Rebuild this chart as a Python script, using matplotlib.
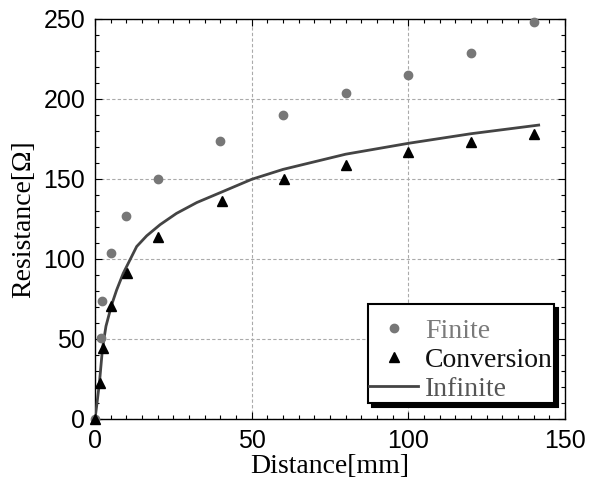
import matplotlib
matplotlib.use("Agg")
import matplotlib.pyplot as plt
from matplotlib.ticker import MultipleLocator

# ---- data ----
finite_x = [0, 1.9, 2.3, 5, 10, 20, 40, 60, 80, 100, 120, 140]
finite_y = [0, 50.4, 74, 104, 127, 150, 174, 190, 203.5, 215, 228.5, 248]

conv_x = [0, 1.6, 2.45, 5.2, 10.2, 20.2, 40.5, 60.2, 80, 100, 120, 140]
conv_y = [0, 22.5, 44.2, 70.5, 91.5, 114, 136.2, 149.8, 158.7, 166.7, 172.9, 178.1]

inf_x = [0, 0.5, 1.4, 2.4, 3.5, 5.3, 6.9, 9, 11.2, 13.3, 16.5, 20.8, 26, 32.5, 40, 50, 60,
         80, 100, 120, 141.6]
inf_y = [0, 7.7, 22.3, 44.2, 58, 71.3, 80.6, 91, 99.6, 107.8, 114.5, 121.5, 128.5, 135.3, 141.5,
         149.8, 156, 165.5, 172.3, 178.3, 183.7]

labels = ["Finite", "Conversion", "Infinite"]
label_colors = ["#7a7a7a", "#111111", "#555555"]

# ---- figure ----
fig = plt.figure(figsize=(6.02, 4.79), dpi=100)
ax = fig.add_axes([95 / 602, 1 - 419 / 479, 470 / 602, 400 / 479])

ax.plot(inf_x, inf_y, color="#444444", lw=2.0, label=labels[2], zorder=3,
        solid_joinstyle="round")
ax.plot(finite_x, finite_y, linestyle="none", marker="o", ms=6, color="#777777",
        label=labels[0], zorder=4, clip_on=False)
ax.plot(conv_x, conv_y, linestyle="none", marker="^", ms=6.5, color="#000000",
        label=labels[1], zorder=5, clip_on=False)

ax.set_xlim(0, 150)
ax.set_ylim(0, 250)
ax.xaxis.set_major_locator(MultipleLocator(50))
ax.xaxis.set_minor_locator(MultipleLocator(5))
ax.yaxis.set_major_locator(MultipleLocator(50))
ax.yaxis.set_minor_locator(MultipleLocator(10))

ax.grid(True, which="major", linestyle=(0, (3, 2)), color="#aaaaaa", lw=0.8)
ax.tick_params(which="both", direction="in", top=True, right=True, color="black", width=0.8)
ax.tick_params(which="major", length=5, labelsize=18, pad=7)
ax.tick_params(which="minor", length=3)
for lab in ax.get_xticklabels() + ax.get_yticklabels():
    lab.set_fontfamily("Liberation Sans")
for s in ax.spines.values():
    s.set_linewidth(1.0)
    s.set_color("black")

ax.set_xlabel("Distance[mm]", fontfamily="Liberation Serif", fontsize=20, labelpad=1)
ax.set_ylabel("Resistance[Ω]", fontfamily="Liberation Serif", fontsize=20, labelpad=5)

handles, labs = ax.get_legend_handles_labels()
order = [1, 2, 0]
leg = ax.legend([handles[i] for i in order], [labs[i] for i in order],
                loc="lower right", bbox_to_anchor=(0.977, 0.04), borderaxespad=0,
                prop={"family": "Liberation Serif", "size": 20},
                labelcolor=label_colors, fancybox=False, framealpha=1,
                edgecolor="black", borderpad=0.05, labelspacing=0.12,
                handlelength=1.75, handletextpad=0.25,
                title=" ", title_fontsize=7,
                shadow={"ox": 3, "oy": -3, "facecolor": "black", "edgecolor": "black", "alpha": 1})
leg.get_frame().set_linewidth(1.5)

fig.savefig("out.png", dpi=100)
